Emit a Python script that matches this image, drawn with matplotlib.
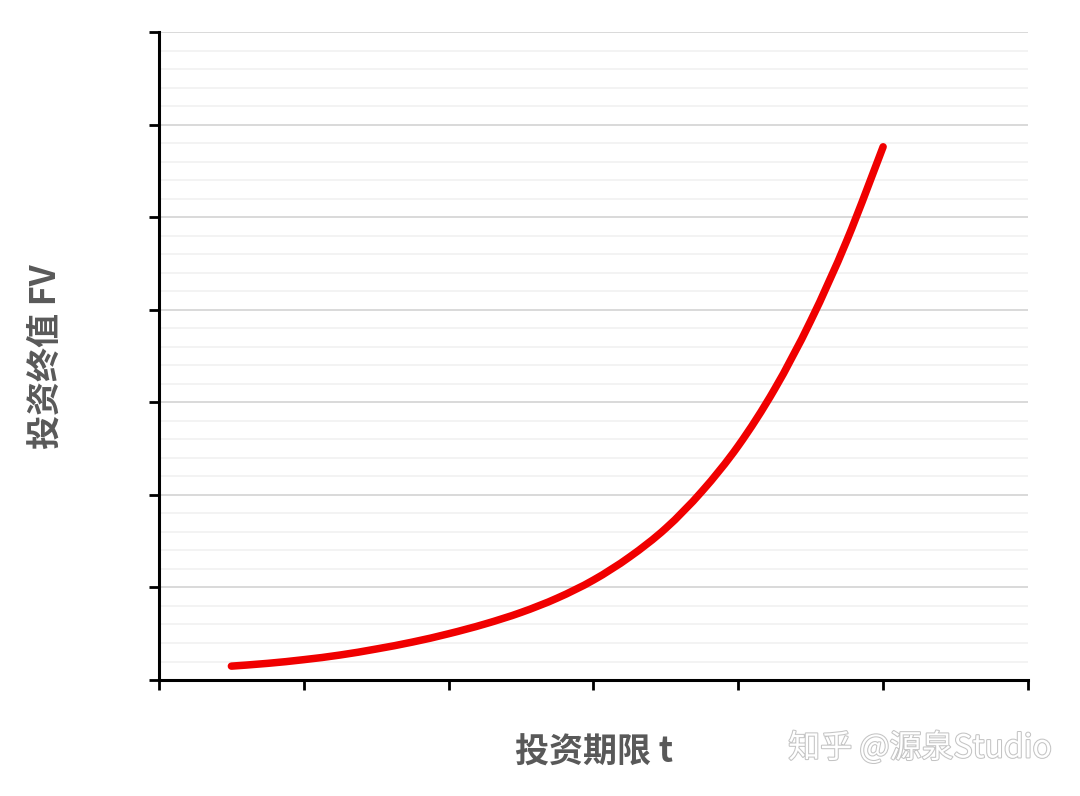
import matplotlib
matplotlib.use("Agg")
import matplotlib.pyplot as plt
from matplotlib.ticker import MultipleLocator, NullFormatter
from matplotlib.path import Path
from matplotlib.patches import PathPatch
import matplotlib.patheffects as pe

plt.rcParams['font.family'] = ['Noto Sans CJK SC', 'DejaVu Sans']

# Data
t_values = [0.5, 0.75, 1.0, 1.25, 1.5, 1.75, 2.0, 2.25, 2.5, 2.75, 3.0,
            3.25, 3.5, 3.75, 4.0, 4.25, 4.5, 4.75, 5.0]
fv_values = [0.15, 0.18, 0.22, 0.27, 0.335, 0.41, 0.50, 0.605, 0.73, 0.885, 1.08,
             1.33, 1.64, 2.04, 2.53, 3.14, 3.88, 4.75, 5.76]
x_label = "投资期限 t"
y_label = "投资终值 FV"
watermark = "知乎 @源泉Studio"

fig = plt.figure(figsize=(10.8, 7.96), dpi=100)
ax = fig.add_axes([0.1472, 0.1457, 0.8046, 0.8141])

ax.set_xlim(0, 6)
ax.set_ylim(0, 7)
ax.xaxis.set_major_locator(MultipleLocator(1))
ax.yaxis.set_major_locator(MultipleLocator(1))
ax.yaxis.set_minor_locator(MultipleLocator(0.2))
ax.xaxis.set_major_formatter(NullFormatter())
ax.yaxis.set_major_formatter(NullFormatter())
ax.tick_params(axis='both', which='major', direction='out', length=7, width=2, color='black')
ax.tick_params(axis='y', which='minor', length=0)

ax.grid(axis='y', which='major', color='#d9d9d9', linewidth=1.4)
ax.grid(axis='y', which='minor', color='#f0f0f0', linewidth=1.1)
ax.set_axisbelow(True)

for s in ['top', 'right']:
    ax.spines[s].set_visible(False)
for s in ['left', 'bottom']:
    ax.spines[s].set_linewidth(2.2)
    ax.spines[s].set_color('black')

# Smooth line through the read points (Catmull-Rom rendered as Bezier path)
pts = list(zip(t_values, fv_values))
verts = [pts[0]]
codes = [Path.MOVETO]
n = len(pts)
for i in range(n - 1):
    p0 = pts[i - 1] if i > 0 else pts[i]
    p1 = pts[i]
    p2 = pts[i + 1]
    p3 = pts[i + 2] if i + 2 < n else pts[i + 1]
    c1 = (p1[0] + (p2[0] - p0[0]) / 6, p1[1] + (p2[1] - p0[1]) / 6)
    c2 = (p2[0] - (p3[0] - p1[0]) / 6, p2[1] - (p3[1] - p1[1]) / 6)
    verts += [c1, c2, p2]
    codes += [Path.CURVE4, Path.CURVE4, Path.CURVE4]
patch = PathPatch(Path(verts, codes), facecolor='none', edgecolor='#f00000',
                  linewidth=5.4, capstyle='round', joinstyle='round',
                  transform=ax.transData, zorder=3)
ax.add_patch(patch)

fig.text(0.55, 0.055, x_label, ha='center', va='center', fontsize=24.5,
         fontweight='bold', color='#595959')
fig.text(0.042, 0.5515, y_label, ha='center', va='center', fontsize=24.5,
         fontweight='bold', color='#595959', rotation=90)
fig.text(0.852, 0.06, watermark, ha='center', va='center', fontsize=23,
         color='white',
         path_effects=[pe.withStroke(linewidth=1.5, foreground='#c4c4c4')])

fig.savefig("out.png", dpi=100)
